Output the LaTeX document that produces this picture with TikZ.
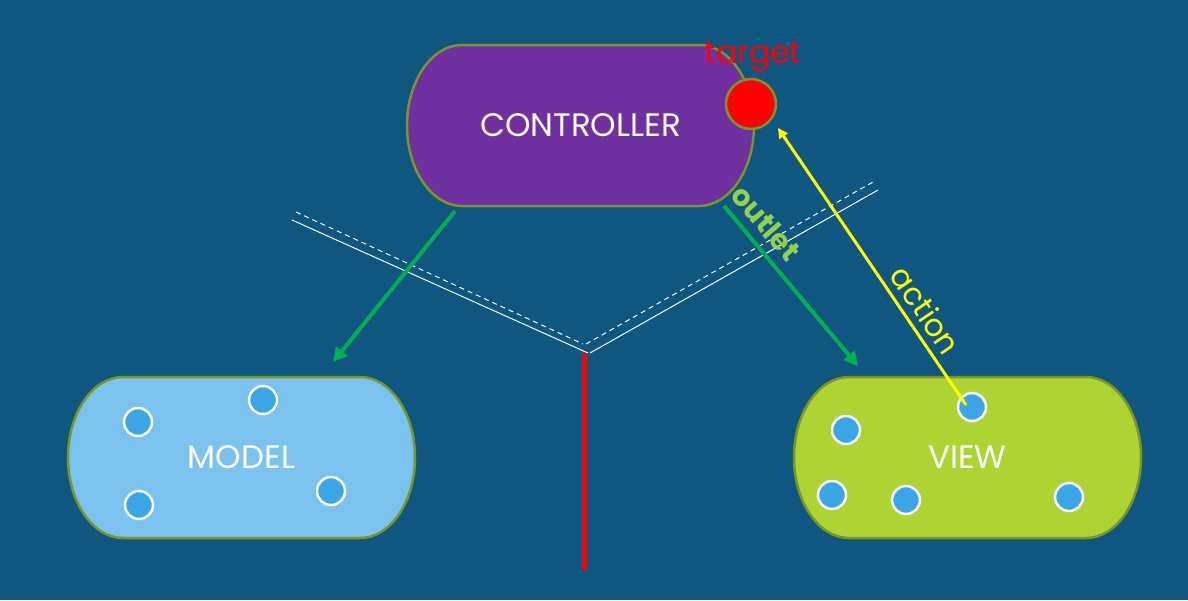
\documentclass[tikz,border=0pt]{standalone}
\usepackage{fontspec}
\setmainfont{Poppins}
\usetikzlibrary{arrows.meta}
\definecolor{bg}{RGB}{15,86,128}
\definecolor{olivebd}{RGB}{122,150,38}
\definecolor{ctrlfill}{RGB}{112,48,160}
\definecolor{modelfill}{RGB}{123,195,238}
\definecolor{viewfill}{RGB}{173,212,50}
\definecolor{dotfill}{RGB}{59,166,230}
\definecolor{arrgreen}{RGB}{0,176,80}
\definecolor{lightgreen}{RGB}{146,208,80}
\definecolor{yel}{RGB}{255,255,0}
\newcommand\pillshape[2]{%
  \path[draw=olivebd, line width=2.5pt, fill=#2]
    ([xshift=55pt]#1.north west) -- ([xshift=-55pt]#1.north east)
    arc[start angle=90, end angle=-90, x radius=55pt, y radius=80.5pt]
    -- ([xshift=55pt]#1.south west)
    arc[start angle=270, end angle=90, x radius=55pt, y radius=80.5pt]
    -- cycle;}
\begin{document}
\begin{tikzpicture}[x=1pt,y=-1pt,
  pill/.style={rectangle, inner sep=0pt, outer sep=0pt,
    minimum width=347pt, minimum height=161pt, text=white, font=\fontsize{32.5}{34}\selectfont},
  dot/.style={circle, fill=dotfill, draw=white, line width=2.5pt, minimum size=28pt, inner sep=0pt},
  garrow/.style={draw=arrgreen, line width=4pt, -{Triangle[length=14pt,width=14pt]}},
  yarrow/.style={draw=yel, line width=3pt, -{Triangle[length=10pt,width=10pt]}},
  wline/.style={draw=white, line width=1pt},
  wdash/.style={draw=white, line width=1pt, dash pattern=on 5pt off 4pt}
]
\fill[bg] (0,0) rectangle (1188,600);
\useasboundingbox (0,0) rectangle (1188,600);

% divider lines
\coordinate (l1) at (292,220);
\coordinate (b1) at (588,353);
\coordinate (b2) at (590,353);
\coordinate (r1) at (878,190);
\coordinate (l2) at (296,212);
\coordinate (b3) at (583,344);
\coordinate (b4) at (586,344);
\coordinate (r2) at (873,182);
\draw[wline] (l1) -- (b1);
\draw[wline] (b2) -- (r1);
\draw[wdash] (l2) -- (b3);
\draw[wdash] (b4) -- (r2);
\coordinate (rt) at (584,353);
\coordinate (rb) at (584,570);
\draw[red, line width=5pt] (rt) -- (rb);

% main nodes (shape drawn behind, text on top)
\path (580.5,125.5) node[pill] (ctrlbox) {};
\path (241.5,457.5) node[pill] (modelbox) {};
\path (967.5,457.5) node[pill] (viewbox) {};
\pillshape{ctrlbox}{ctrlfill}
\pillshape{modelbox}{modelfill}
\pillshape{viewbox}{viewfill}
\node[pill] (ctrl) at (ctrlbox.center) {CONTROLLER};
\node[pill] (model) at (modelbox.center) {MODEL};
\node[pill] (view) at (viewbox.center) {VIEW};

% target
\node[circle, fill=red, draw=olivebd, line width=2.5pt, minimum size=50pt, inner sep=0pt] (target) at (751,104) {};
\node[text=red, font=\fontsize{31.5}{33}\selectfont] (targetlbl) at (753,57) {target};

% model dots
\node[dot] (m1) at (138,422) {};
\node[dot] (m2) at (263,400) {};
\node[dot] (m3) at (139,505) {};
\node[dot] (m4) at (331,491) {};

% view dots
\node[dot] (v1) at (846,430) {};
\node[dot] (v2) at (972,407) {};
\node[dot] (v3) at (832,495) {};
\node[dot] (v4) at (906,500) {};
\node[dot] (v5) at (1069,497) {};

% green arrows
\coordinate (cs1) at (455,211);
\coordinate (me) at (333,362);
\coordinate (cs2) at (724,206);
\coordinate (ve) at (858,366);
\draw[garrow] (cs1) -- (me);
\draw[garrow] (cs2) -- (ve);
\node[text=lightgreen, font=\bfseries\fontsize{29}{31}\selectfont, rotate=-49] (outlet) at (766,223) {outlet};

% yellow action arrow
\coordinate (ys) at (966,405);
\coordinate (ye) at (778,128);
\draw[yarrow] (ys) -- (ye);
\node[text=yel, font=\fontsize{31}{33}\selectfont, rotate=-56] (action) at (926,310) {action};
\end{tikzpicture}
\end{document}
